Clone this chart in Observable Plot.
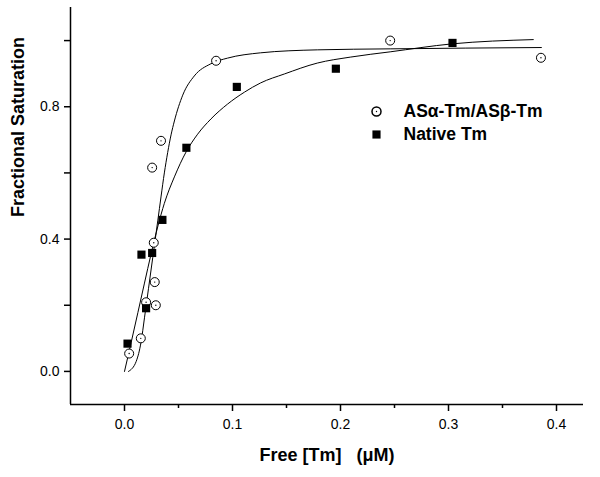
<!DOCTYPE html>
<html>
<head>
<meta charset="utf-8">
<script src="https://cdn.jsdelivr.net/npm/d3@7"></script>
<script src="https://cdn.jsdelivr.net/npm/@observablehq/plot@0.6"></script>
<style>
  html, body { margin: 0; padding: 0; background: #fff; }
</style>
</head>
<body>
<div id="chart"></div>
<script>
// ---- Data ----
// ASα-Tm/ASβ-Tm (open circles)
const asX = [0.0043, 0.0151, 0.020, 0.029, 0.028, 0.0271, 0.0256, 0.0338, 0.0848, 0.246, 0.3856];
const asY = [0.054, 0.100, 0.209, 0.200, 0.270, 0.389, 0.616, 0.697, 0.939, 1.000, 0.948];
// Native Tm (filled squares)
const nativeX = [0.0028, 0.020, 0.0157, 0.0256, 0.0351, 0.0573, 0.104, 0.1957, 0.3037];
const nativeY = [0.084, 0.191, 0.353, 0.358, 0.458, 0.676, 0.860, 0.915, 0.993];
// Fitted curve (ASα/ASβ)
const asFitX = [0.0037, 0.0108, 0.0154, 0.0185, 0.0222, 0.0262, 0.0308, 0.0339, 0.0369, 0.0400, 0.0431, 0.0462, 0.0539, 0.0646, 0.080, 0.0954, 0.126, 0.1785, 0.246, 0.386];
const asFitY = [0.000, 0.030, 0.090, 0.162, 0.250, 0.345, 0.455, 0.530, 0.600, 0.662, 0.715, 0.757, 0.835, 0.893, 0.930, 0.947, 0.963, 0.972, 0.975, 0.979];
// Fitted curve (Native)
const nativeFitX = [0.0, 0.0062, 0.0124, 0.0185, 0.0246, 0.031, 0.0369, 0.0462, 0.0573, 0.0677, 0.080, 0.0954, 0.111, 0.126, 0.148, 0.1785, 0.209, 0.246, 0.303, 0.3785];
const nativeFitY = [0.000, 0.088, 0.178, 0.267, 0.355, 0.440, 0.508, 0.588, 0.665, 0.717, 0.763, 0.808, 0.844, 0.872, 0.899, 0.932, 0.950, 0.966, 0.990, 1.003];

const xMajorTicks = [0.0, 0.1, 0.2, 0.3, 0.4];
const xMinorTicks = [0.05, 0.15, 0.25, 0.35];
const yMajorTicks = [0.0, 0.4, 0.8];
const yMinorTicks = [0.2, 0.6, 1.0];
const xDomain = [-0.05, 0.425];
const yDomain = [-0.1, 1.1];

const xTitle = "Free [Tm]   (\u03BCM)";
const yTitle = "Fractional Saturation";
const legendLabels = ["AS\u03B1-Tm/AS\u03B2-Tm", "Native Tm"];

// ---- Build tables ----
const asPts = asX.map((x, i) => ({x, y: asY[i]}));
const nativePts = nativeX.map((x, i) => ({x, y: nativeY[i]}));
const asFit = asFitX.map((x, i) => ({x, y: asFitY[i]}));
const nativeFit = nativeFitX.map((x, i) => ({x, y: nativeFitY[i]}));

const font = "'Liberation Sans', Arial, Helvetica, sans-serif";

const chart = Plot.plot({
  width: 600,
  height: 477,
  marginLeft: 70,
  marginRight: 17,
  marginTop: 7,
  marginBottom: 73,
  style: {fontFamily: font, background: "#fff", color: "#000", overflow: "visible"},
  x: {domain: xDomain},
  y: {domain: yDomain},
  marks: [
    // axis lines
    Plot.ruleX([xDomain[0]], {stroke: "#000", strokeWidth: 1.5}),
    Plot.ruleY([yDomain[0]], {stroke: "#000", strokeWidth: 1.5}),
    // x axis ticks
    Plot.axisX({ticks: xMajorTicks, tickSize: 7, tickPadding: 8, tickFormat: d3.format(".1f"), fontSize: 14, label: null, strokeWidth: 1.5}),
    Plot.axisX({ticks: xMinorTicks, tickSize: 4, tickFormat: () => "", label: null, strokeWidth: 1.5}),
    // y axis ticks
    Plot.axisY({ticks: yMajorTicks, tickSize: 6, tickPadding: 5, tickFormat: d3.format(".1f"), fontSize: 14, label: null, strokeWidth: 1.5}),
    Plot.axisY({ticks: yMinorTicks, tickSize: 6, tickFormat: () => "", label: null, strokeWidth: 1.5}),
    // fitted curves
    Plot.line(asFit, {x: "x", y: "y", stroke: "#000", strokeWidth: 1, curve: "monotone-x"}),
    Plot.line(nativeFit, {x: "x", y: "y", stroke: "#000", strokeWidth: 1, curve: "monotone-x"}),
    // data points
    Plot.dot(asPts, {x: "x", y: "y", r: 4.5, stroke: "#000", strokeWidth: 1, fill: "#fff"}),
    Plot.dot(asPts, {x: "x", y: "y", r: 0.7, fill: "#000"}),
    Plot.dot(nativePts, {x: "x", y: "y", r: 4.6, symbol: "square", fill: "#000"}),
    // axis titles
    Plot.text([xTitle], {frameAnchor: "bottom", dy: 51, fontSize: 18, fontWeight: "bold", lineAnchor: "middle", fill: "#000"}),
    Plot.text([yTitle], {frameAnchor: "left", dx: -52, dy: 11, rotate: -90, fontSize: 18, fontWeight: "bold", lineAnchor: "middle", fill: "#000"}),
    // legend
    Plot.dot([legendLabels[0]], {frameAnchor: "top-left", dx: 306, dy: 104, r: 4.5, stroke: "#000", fill: "#fff"}),
    Plot.dot([legendLabels[0]], {frameAnchor: "top-left", dx: 306, dy: 104, r: 0.7, fill: "#000"}),
    Plot.text([legendLabels[0]], {frameAnchor: "top-left", dx: 333, dy: 104, textAnchor: "start", lineAnchor: "middle", fontSize: 17.5, fontWeight: "bold", fill: "#000"}),
    Plot.dot([legendLabels[1]], {frameAnchor: "top-left", dx: 306, dy: 127, r: 4.6, symbol: "square", fill: "#000"}),
    Plot.text([legendLabels[1]], {frameAnchor: "top-left", dx: 333, dy: 127, textAnchor: "start", lineAnchor: "middle", fontSize: 17.5, fontWeight: "bold", fill: "#000"})
  ]
});

document.getElementById("chart").appendChild(chart);
</script>
</body>
</html>
